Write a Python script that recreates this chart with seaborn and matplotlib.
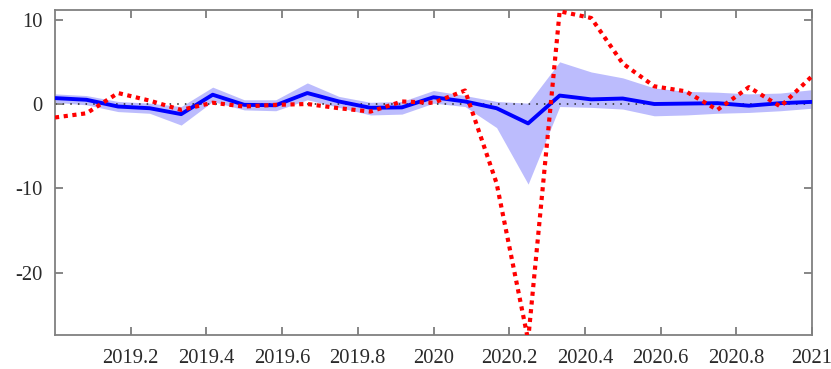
import numpy as np
import pandas as pd
import matplotlib
matplotlib.use("Agg")
import matplotlib.pyplot as plt
import seaborn as sns

# Monthly dates 2019.0 .. 2021.0
months = [2019 + k / 12 for k in range(25)]

# Blue median line and its band
median = [0.7, 0.5, -0.3, -0.5, -1.2, 1.1, -0.1, -0.15, 1.3, 0.3, -0.45, -0.4,
          0.8, 0.3, -0.5, -2.3, 1.0, 0.55, 0.65, 0.0, 0.05, 0.1, -0.2, 0.1, 0.25]
lower = [0.2, -0.1, -0.9, -1.1, -2.5, 0.3, -0.7, -0.8, 0.5, -0.4, -1.3, -1.2,
         0.1, -0.3, -2.8, -9.5, -0.3, -0.4, -0.6, -1.4, -1.3, -1.1, -1.0, -0.8, -0.5]
upper = [1.2, 1.0, 0.3, 0.1, -0.3, 2.0, 0.5, 0.5, 2.5, 0.9, 0.2, 0.3,
         1.6, 1.0, 0.3, 0.1, 5.0, 3.8, 3.1, 1.9, 1.5, 1.4, 1.2, 1.3, 1.7]
# Red dotted series
actual = [-1.6, -1.1, 1.3, 0.4, -0.7, 0.15, -0.3, -0.1, 0.0, -0.5, -0.9, 0.3,
          0.15, 1.6, -9.4, -28.0, 11.0, 10.2, 4.8, 2.1, 1.5, -0.7, 2.0, -0.3, 3.3]

xticks = [2019.2, 2019.4, 2019.6, 2019.8, 2020.0, 2020.2, 2020.4, 2020.6, 2020.8, 2021.0]
xticklabels = ["2019.2", "2019.4", "2019.6", "2019.8", "2020", "2020.2", "2020.4",
               "2020.6", "2020.8", "2021"]
yticks = [-20, -10, 0, 10]
yticklabels = ["-20", "-10", "0", "10"]

df = pd.DataFrame({"t": months, "median": median, "lower": lower,
                   "upper": upper, "actual": actual})

sns.set_style("white")
plt.rcParams["font.family"] = ["Liberation Serif", "DejaVu Serif"]
plt.rcParams["axes.unicode_minus"] = False

fig = plt.figure(figsize=(8.31, 3.69), dpi=100)
ax = fig.add_axes([55 / 831, 1 - 335 / 369, (812 - 55) / 831, (335 - 10) / 369])

ax.fill_between(df["t"], df["lower"], df["upper"], color="#bcbcfd", linewidth=0, zorder=1)
ax.axhline(0, color="#222222", linestyle=(0, (1, 4)), linewidth=1.1, zorder=2)
sns.lineplot(data=df, x="t", y="median", ax=ax, color="#0000ff", linewidth=2.8,
             zorder=3, estimator=None)
sns.lineplot(data=df, x="t", y="actual", ax=ax, color="#ff0000", linewidth=3.0,
             linestyle=(0, (1, 1.1)), zorder=4, estimator=None)

ax.set_xlim(2019.0, 2021.0)
ax.set_ylim(-27.4, 11.15)
ax.set_xticks(xticks)
ax.set_xticklabels(xticklabels)
ax.set_yticks(yticks)
ax.set_yticklabels(yticklabels)
ax.set_xlabel("")
ax.set_ylabel("")

for s in ax.spines.values():
    s.set_visible(True)
    s.set_color("#808080")
    s.set_linewidth(1.3)

ax.tick_params(axis="both", direction="in", length=6, width=1.1, color="#666666",
               labelsize=14.8, labelcolor="#2a2a2a",
               bottom=True, left=True, top=True, right=True)
ax.tick_params(axis="x", pad=10)
ax.tick_params(axis="y", pad=9)

fig.savefig("out.png", dpi=100)
